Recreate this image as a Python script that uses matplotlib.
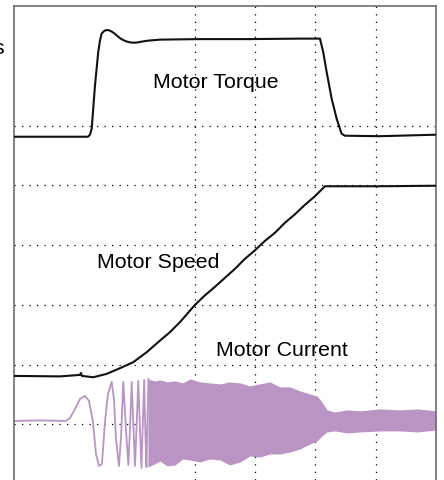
import matplotlib.pyplot as plt
import numpy as np

# time / amplitude in scope divisions (x: 0..7, y: 0..8)
torque_t = [0, 1.227, 1.260, 1.289, 1.343, 1.398, 1.426, 1.454, 1.493, 1.526, 1.564,
            1.609, 1.658, 1.708, 1.758, 1.813, 1.874, 1.952, 2.023, 2.090, 2.222,
            2.421, 3.085, 3.914, 4.743, 5.075, 5.129, 5.186, 5.269, 5.352, 5.434,
            5.489, 6.070, 7.0]
torque_v = [5.812, 5.812, 5.846, 5.946, 6.667, 7.236, 7.420, 7.538, 7.580, 7.596, 7.596,
            7.580, 7.546, 7.504, 7.462, 7.429, 7.404, 7.387, 7.387, 7.399, 7.420,
            7.437, 7.446, 7.446, 7.454, 7.454, 7.231, 6.896, 6.449, 6.114, 5.863,
            5.829, 5.821, 5.846]

speed_t = [0, 0.763, 1.095, 1.111, 1.128, 1.315, 1.537, 1.758, 1.978, 2.201, 2.421,
           2.587, 2.753, 3.002, 3.167, 3.333, 3.499, 3.665, 3.831, 3.997, 4.163,
           4.328, 4.494, 4.660, 4.826, 4.992, 5.158, 6.070, 7.0]
speed_v = [1.809, 1.801, 1.826, 1.859, 1.809, 1.787, 1.843, 1.938, 2.039, 2.206, 2.400,
           2.541, 2.709, 2.998, 3.157, 3.300, 3.451, 3.601, 3.769, 3.911, 4.070,
           4.204, 4.372, 4.514, 4.673, 4.816, 4.983, 4.983, 4.992]

# start-up part of the phase current (individual swings still visible)
current_t = [0, 0.431, 0.862, 0.929, 1.012, 1.095, 1.177, 1.244, 1.310, 1.360, 1.410,
             1.459, 1.509, 1.559, 1.620, 1.658, 1.692, 1.741, 1.774, 1.813, 1.857,
             1.896, 1.924, 1.952, 1.982, 2.007, 2.035, 2.061, 2.090, 2.114, 2.139,
             2.159, 2.181, 2.197, 2.214, 2.231]
current_v = [1.055, 1.064, 1.055, 1.106, 1.256, 1.424, 1.474, 1.390, 1.039, 0.503, 0.302,
             0.335, 1.039, 1.508, 1.709, 1.424, 0.754, 0.302, 0.754, 1.709, 0.921,
             0.318, 0.921, 1.709, 0.921, 0.302, 1.005, 1.725, 0.921, 0.268, 1.089,
             1.742, 0.754, 0.285, 1.089, 1.759]

# envelope of the dense part of the current
env_t = [2.222, 2.330, 2.421, 2.540, 2.670, 2.800, 2.919, 3.085, 3.250, 3.416, 3.580,
         3.748, 3.914, 4.080, 4.245, 4.411, 4.577, 4.743, 4.909, 5.025, 5.108,
         5.191, 5.323, 5.530, 5.738, 6.070, 6.401, 6.700, 7.0]
env_hi = [1.759, 1.725, 1.742, 1.709, 1.725, 1.692, 1.759, 1.709, 1.692, 1.675, 1.709,
          1.692, 1.642, 1.675, 1.709, 1.625, 1.625, 1.558, 1.508, 1.474, 1.374,
          1.240, 1.206, 1.240, 1.223, 1.257, 1.240, 1.257, 1.223]
env_lo = [0.285, 0.335, 0.385, 0.302, 0.318, 0.419, 0.402, 0.369, 0.419, 0.402, 0.318,
          0.369, 0.469, 0.452, 0.503, 0.503, 0.536, 0.586, 0.670, 0.720, 0.804,
          0.871, 0.888, 0.854, 0.871, 0.888, 0.888, 0.871, 0.905]

grid_x = [3, 4, 5, 6]
grid_y = [1, 2, 3, 4, 5, 6]

W, H = 444, 481
fig = plt.figure(figsize=(W / 100, H / 100), dpi=100)
ax = fig.add_axes([14 / W, 0, (436 - 14) / W, (481 - 7) / H])
ax.set_xlim(0, 7)
ax.set_ylim(0.067, 8.0)
ax.set_xticks([])
ax.set_yticks([])
for side in ['left', 'right', 'top']:
    ax.spines[side].set_color('#6e6e6e')
    ax.spines[side].set_linewidth(1.2)
ax.spines['bottom'].set_visible(False)

dots = dict(color='black', lw=0.9, ls=(0, (1, 5)), zorder=1)
for gx in grid_x:
    ax.axvline(gx, **dots)
for gy in grid_y:
    ax.axhline(gy, **dots)

purple = '#b994c4'
ax.fill_between(env_t, env_lo, env_hi, color=purple, lw=0, zorder=2)
ax.plot(current_t, current_v, color=purple, lw=1.3, zorder=2)

ax.plot(speed_t, speed_v, color='#111111', lw=1.5, zorder=3)
ax.plot(torque_t, torque_v, color='#111111', lw=1.5, zorder=3)

font = dict(family='Liberation Sans', fontsize=15.4, va='baseline', ha='left', zorder=4)
ax.text(2.300, 6.645, 'Motor Torque', **font)
ax.text(1.371, 3.635, 'Motor Speed', **font)
ax.text(3.350, 2.161, 'Motor Current', **font)

# label fragment cut off at the left edge, as in the source
fig.text(4.5 / W, 1 - 54 / H, 's', family='Liberation Sans', fontsize=15.4,
         ha='right', va='baseline')

fig.savefig('out.png', dpi=100)
